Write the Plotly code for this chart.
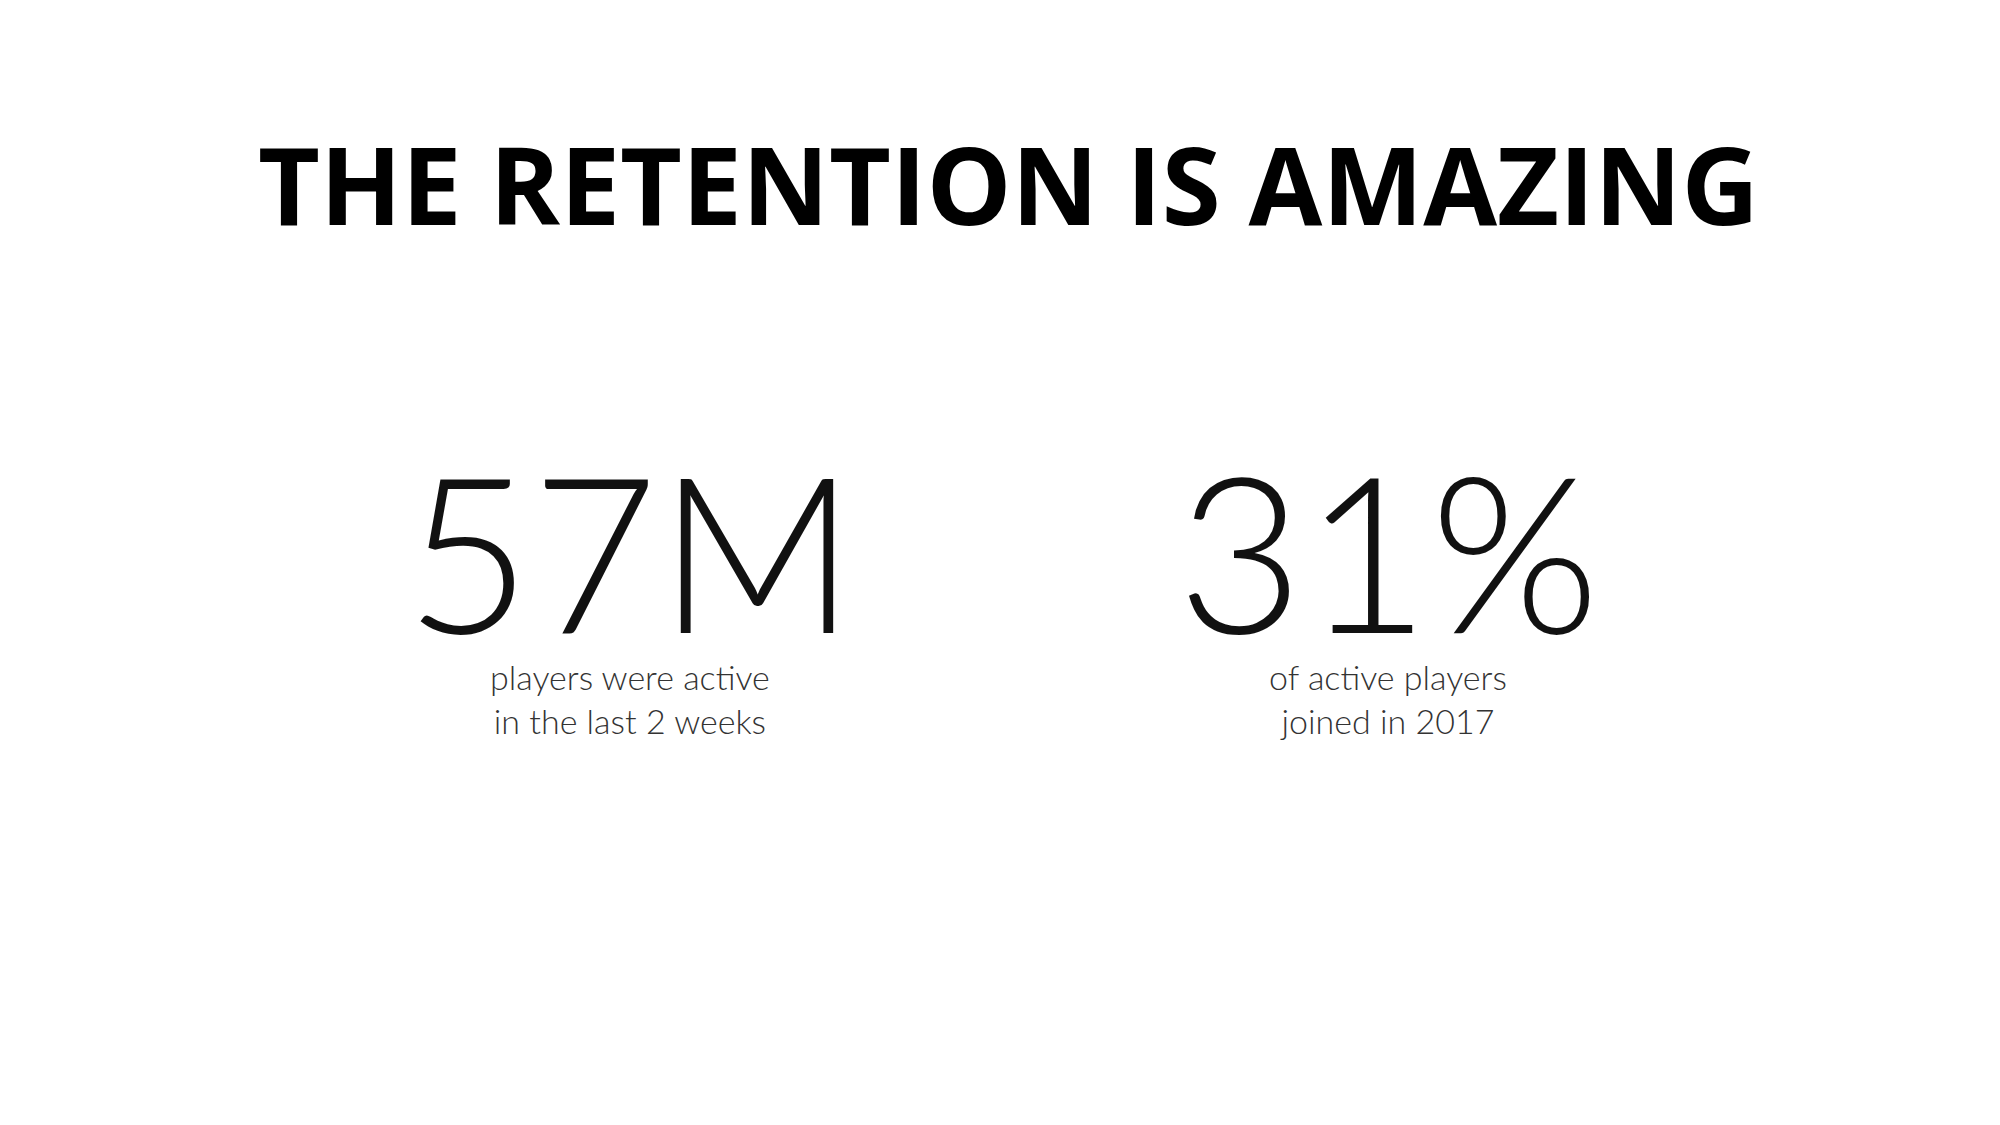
import plotly.graph_objects as go

title = "THE RETENTION IS AMAZING"
stats = ["57M", "31%"]
captions = ["players were active<br>in the last 2 weeks", "of active players<br>joined in 2017"]
stat_x = [0.311, 0.69]

fig = go.Figure()

fig.add_annotation(text=title, x=0.5, y=1 - 176 / 1125, xref="paper", yref="paper",
                   xanchor="center", yanchor="middle", showarrow=False,
                   font=dict(family="Open Sans", size=107, color="#000000", weight=700))

for sx, st, cap in zip(stat_x, stats, captions):
    fig.add_annotation(text=st, x=sx, y=1 - 540 / 1125, xref="paper", yref="paper",
                       xanchor="center", yanchor="middle", showarrow=False,
                       font=dict(family="Lato", size=218, color="#111111", weight=300))
    fig.add_annotation(text=cap, x=sx, y=1 - 690 / 1125, xref="paper", yref="paper",
                       xanchor="center", yanchor="middle", showarrow=False, align="center",
                       font=dict(family="Lato", size=34, color="#333333", weight=300))

fig.update_xaxes(visible=False)
fig.update_yaxes(visible=False)
fig.update_layout(width=2000, height=1125, margin=dict(l=0, r=0, t=0, b=0),
                  paper_bgcolor="white", plot_bgcolor="white", showlegend=False)
fig.write_html("out.html")
